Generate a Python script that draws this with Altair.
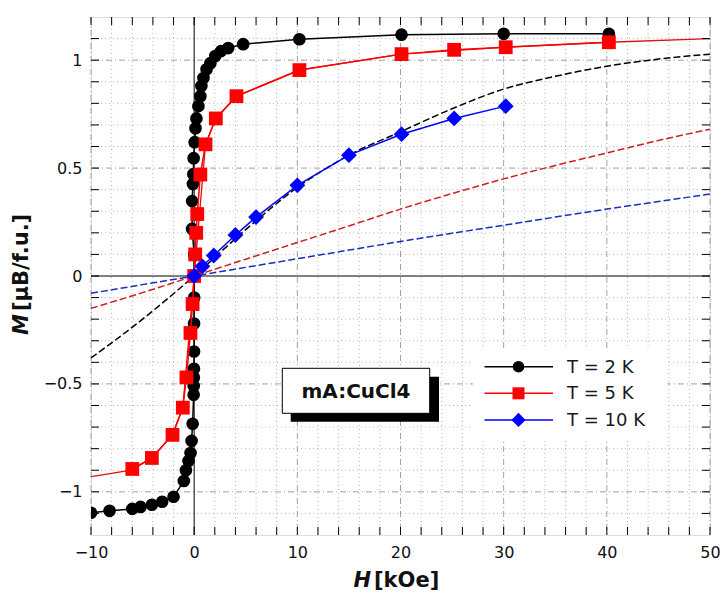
import altair as alt
import pandas as pd

# ---------------- data ----------------
LABELS = ["T = 2 K", "T = 5 K", "T = 10 K"]
COLORS = ["#000000", "#ff0000", "#0000ff"]
SHAPES = ["circle", "square", "diamond"]
SIZES = [160, 190, 250]
LEG_SIZES = [135, 144, 200]

H_2K = [-10, -8.2, -6.0, -5.2, -4.1, -3.1, -2.0, -1.0, -0.8, -0.55, -0.35, -0.25,
        -0.15, -0.05, -0.04, -0.03, -0.02, -0.01, -0.01, 0.0, 0.0, 0.0, -0.2, -0.2,
        -0.12, -0.08, -0.05, 0.05, 0.13, 0.22, 0.41, 0.6, 0.7, 0.9, 1.2, 1.57, 2.05,
        2.6, 3.3, 4.75, 10.2, 20.1, 30.0, 40.2]
M_2K = [-1.097, -1.088, -1.079, -1.07, -1.06, -1.046, -1.023, -0.95, -0.90, -0.857,
        -0.82, -0.764, -0.685, -0.55, -0.51, -0.47, -0.43, -0.35, -0.22, -0.1, 0.0,
        0.1, 0.218, 0.347, 0.426, 0.472, 0.546, 0.62, 0.685, 0.73, 0.787, 0.833, 0.88,
        0.917, 0.958, 0.986, 1.019, 1.042, 1.056, 1.074, 1.097, 1.118, 1.122, 1.122]

H_5K = [-6.0, -4.1, -2.1, -1.1, -0.75, -0.36, -0.15, 0.0, 0.1, 0.2, 0.3, 0.6, 1.1,
        2.1, 4.1, 10.2, 20.1, 25.2, 30.2, 40.2]
M_5K = [-0.894, -0.843, -0.736, -0.61, -0.47, -0.264, -0.13, 0.0, 0.1, 0.2, 0.287,
        0.47, 0.61, 0.73, 0.833, 0.954, 1.028, 1.048, 1.06, 1.083]

H_10K = [0.0, 0.8, 1.9, 4.0, 6.0, 10.0, 15.0, 20.1, 25.2, 30.2]
M_10K = [0.0, 0.045, 0.095, 0.19, 0.273, 0.42, 0.56, 0.657, 0.73, 0.787]

# red solid fit through the 5 K data
H_FIT5 = [-10, -8, -6, -4.1, -2.1, -1.1, 0, 1.1, 2.1, 4.1, 10.2, 20.1, 30.2, 40.2, 50]
M_FIT5 = [-0.93, -0.914, -0.898, -0.843, -0.736, -0.61, 0.0, 0.61, 0.73, 0.833,
          0.954, 1.028, 1.06, 1.083, 1.1]

# dashed curves
H_DASH = [-10, -5, 0, 5, 10, 15, 20, 25, 30, 35, 40, 45, 50]
M_DASH_BLACK = [-0.38, -0.2, 0.0, 0.215, 0.41, 0.56, 0.668, 0.775, 0.866, 0.925,
                0.972, 1.005, 1.028]
M_DASH_RED = [-0.15, -0.077, 0.0, 0.078, 0.155, 0.232, 0.31, 0.382, 0.45, 0.512,
              0.57, 0.628, 0.68]
M_DASH_BLUE = [-0.08, -0.04, 0.0, 0.04, 0.08, 0.12, 0.16, 0.198, 0.235, 0.273,
               0.31, 0.345, 0.38]
DASH_COLORS = ["#000000", "#cc2020", "#1a2fc0"]

X_DOMAIN = [-10, 50]
Y_DOMAIN = [-1.2, 1.2]
X_MAJOR = [-10, 0, 10, 20, 30, 40, 50]
X_MINOR = [v for v in range(-8, 50, 2) if v % 10 != 0]
Y_MAJOR = [-1.0, -0.5, 0.0, 0.5, 1.0]
Y_MINOR = [round(v / 10, 1) for v in range(-11, 12) if v % 5 != 0]

ANNOT = "mA:CuCl4"

# ---------------- chart ----------------
W, HGT = 619, 518
FONT = "DejaVu Sans"

xs = alt.Scale(domain=X_DOMAIN, nice=False, zero=False)
ys = alt.Scale(domain=Y_DOMAIN, nice=False, zero=False)
AX_X = alt.Axis(values=X_MAJOR, ticks=False, domain=False, grid=False, title=None,
                labelFont=FONT, labelFontSize=16, labelColor="#111", labelPadding=9,
                labelFlush=False, labelOverlap=False, format="d")
AX_Y = alt.Axis(values=Y_MAJOR, ticks=False, domain=False, grid=False, title=None,
                labelFont=FONT, labelFontSize=16, labelColor="#111", labelPadding=9,
                labelFlush=False, labelOverlap=False, format=".1~f")


def X(f):
    return alt.X(f, type="quantitative", scale=xs, axis=AX_X)


def Y(f):
    return alt.Y(f, type="quantitative", scale=ys, axis=AX_Y)


layers = []

# grid
layers.append(alt.Chart(pd.DataFrame({"v": X_MINOR})).mark_rule(
    color="#b8b8b8", strokeWidth=1, strokeDash=[1, 3]).encode(x=X("v")))
layers.append(alt.Chart(pd.DataFrame({"v": Y_MINOR})).mark_rule(
    color="#b8b8b8", strokeWidth=1, strokeDash=[1, 3]).encode(y=Y("v")))
layers.append(alt.Chart(pd.DataFrame({"v": [v for v in X_MAJOR if v != 0]})).mark_rule(
    color="#a0a0a0", strokeWidth=1, strokeDash=[6, 3, 1, 3]).encode(x=X("v")))
layers.append(alt.Chart(pd.DataFrame({"v": [v for v in Y_MAJOR if v != 0]})).mark_rule(
    color="#a0a0a0", strokeWidth=1, strokeDash=[6, 3, 1, 3]).encode(y=Y("v")))
# zero lines
layers.append(alt.Chart(pd.DataFrame({"v": [0]})).mark_rule(
    color="black", strokeWidth=1).encode(x=X("v")))
layers.append(alt.Chart(pd.DataFrame({"v": [0]})).mark_rule(
    color="black", strokeWidth=1).encode(y=Y("v")))

# dashed curves
for m, c in zip([M_DASH_BLUE, M_DASH_RED, M_DASH_BLACK], [DASH_COLORS[2], DASH_COLORS[1], DASH_COLORS[0]]):
    d = pd.DataFrame({"H": H_DASH, "M": m})
    layers.append(alt.Chart(d).mark_line(color=c, strokeWidth=1.5, strokeDash=[7, 3],
                                         interpolate="monotone", clip=True)
                  .encode(x=X("H"), y=Y("M")))

# red fit
dfit = pd.DataFrame({"H": H_FIT5, "M": M_FIT5})
layers.append(alt.Chart(dfit).mark_line(color="#e01010", strokeWidth=1.3, clip=True)
              .encode(x=X("H"), y=Y("M")))

# data series
for hs, ms, c, s, sz in zip([H_2K, H_5K, H_10K], [M_2K, M_5K, M_10K], COLORS, SHAPES, SIZES):
    d = pd.DataFrame({"H": hs, "M": ms, "i": list(range(len(hs)))})
    layers.append(alt.Chart(d).mark_line(color=c, strokeWidth=1.5, clip=True)
                  .encode(x=X("H"), y=Y("M"), order=alt.Order("i:Q")))
    layers.append(alt.Chart(d).mark_point(shape=s, filled=True, color=c, size=sz,
                                          opacity=1, clip=True)
                  .encode(x=X("H"), y=Y("M")))

# ticks (inward, all four sides)
xt = pd.DataFrame({"v": sorted(X_MAJOR + X_MINOR)})
yt = pd.DataFrame({"v": sorted(Y_MAJOR + Y_MINOR)})
TL = 8
layers.append(alt.Chart(xt).mark_rule(color="black", strokeWidth=1).encode(
    x=X("v"), y=alt.value(HGT), y2=alt.value(HGT - TL)))
layers.append(alt.Chart(xt).mark_rule(color="black", strokeWidth=1).encode(
    x=X("v"), y=alt.value(0), y2=alt.value(TL)))
layers.append(alt.Chart(yt).mark_rule(color="black", strokeWidth=1).encode(
    y=Y("v"), x=alt.value(0), x2=alt.value(TL)))
layers.append(alt.Chart(yt).mark_rule(color="black", strokeWidth=1).encode(
    y=Y("v"), x=alt.value(W), x2=alt.value(W - TL)))

# legend (white box, line + marker + label)
one = pd.DataFrame({"a": [0]})
layers.append(alt.Chart(one).mark_rect(color="white").encode(
    x=alt.value(382), x2=alt.value(576), y=alt.value(331), y2=alt.value(424)))
for i, (lab, c, s, sz) in enumerate(zip(LABELS, COLORS, SHAPES, LEG_SIZES)):
    yy = 349.7 + 26.6 * i
    dl = pd.DataFrame({"label": [lab]})
    layers.append(alt.Chart(dl).mark_rule(color=c, strokeWidth=1.5).encode(
        x=alt.value(393.5), x2=alt.value(462), y=alt.value(yy)))
    layers.append(alt.Chart(dl).mark_point(shape=s, filled=True, color=c, size=sz,
                                           opacity=1).encode(
        x=alt.value(427.5), y=alt.value(yy)))
    layers.append(alt.Chart(dl).mark_text(align="left", baseline="middle", font=FONT,
                                          fontSize=18, color="#1a1a1a").encode(
        x=alt.value(476), y=alt.value(yy + 1), text="label:N"))

# annotation box with shadow
da = pd.DataFrame({"t": [ANNOT]})
layers.append(alt.Chart(da).mark_rect(color="black").encode(
    x=alt.value(199.7), x2=alt.value(348), y=alt.value(359.7), y2=alt.value(404.7)))
layers.append(alt.Chart(da).mark_rect(fill="white", stroke="black", strokeWidth=1).encode(
    x=alt.value(191.3), x2=alt.value(338.7), y=alt.value(351.3), y2=alt.value(396.3)))
layers.append(alt.Chart(da).mark_text(font=FONT, fontSize=20, fontWeight="bold",
                                      color="#111", align="center", baseline="middle").encode(
    x=alt.value(265), y=alt.value(375), text="t:N"))

# axis titles
layers.append(alt.Chart(pd.DataFrame({"t": ["H"]})).mark_text(
    font=FONT, fontSize=21, fontWeight="bold", fontStyle="italic", align="right",
    baseline="middle", color="#111").encode(x=alt.value(280), y=alt.value(564), text="t:N"))
layers.append(alt.Chart(pd.DataFrame({"t": ["[kOe]"]})).mark_text(
    font=FONT, fontSize=21, fontWeight="bold", align="left",
    baseline="middle", color="#111").encode(x=alt.value(283), y=alt.value(564), text="t:N"))
layers.append(alt.Chart(pd.DataFrame({"t": ["M"]})).mark_text(
    font=FONT, fontSize=21, fontWeight="bold", fontStyle="italic", align="right",
    baseline="middle", angle=270, color="#111").encode(x=alt.value(-69), y=alt.value(297), text="t:N"))
layers.append(alt.Chart(pd.DataFrame({"t": ["[μB/f.u.]"]})).mark_text(
    font=FONT, fontSize=21, fontWeight="bold", align="left",
    baseline="middle", angle=270, color="#111").encode(x=alt.value(-69), y=alt.value(294), text="t:N"))

chart = alt.layer(*layers).properties(
    width=W, height=HGT,
    autosize=alt.AutoSizeParams(type="none"),
    padding={"left": 83, "top": 9, "right": 10, "bottom": 63},
).configure_view(stroke="black", strokeWidth=1.5).configure(background="white")

chart.save("out.html", embed_options={"renderer": "svg", "actions": False})
